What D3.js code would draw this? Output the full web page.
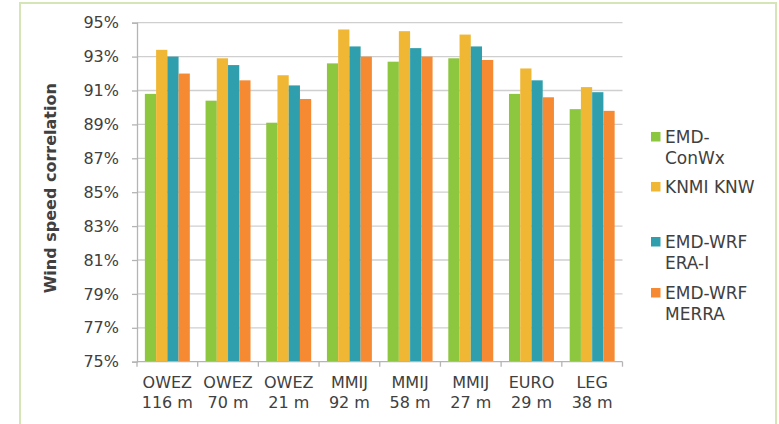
<!DOCTYPE html>
<html>
<head>
<meta charset="utf-8">
<script src="https://cdn.jsdelivr.net/npm/d3@7/dist/d3.min.js"></script>
<style>
  html, body { margin: 0; padding: 0; background: #ffffff; }
  svg { display: block; }
  text { font-family: "DejaVu Sans", Verdana, sans-serif; fill: #404040; }
</style>
</head>
<body>
<svg id="chart" width="779" height="424"></svg>
<script>
// Station / height categories (two-line labels)
const categories = [
  ["OWEZ", "116 m"], ["OWEZ", "70 m"], ["OWEZ", "21 m"], ["MMIJ", "92 m"],
  ["MMIJ", "58 m"], ["MMIJ", "27 m"], ["EURO", "29 m"], ["LEG", "38 m"]
];
const seriesNames = [
  ["EMD-", "ConWx"], ["KNMI KNW"], ["EMD-WRF", "ERA-I"], ["EMD-WRF", "MERRA"]
];
const seriesColors = ["#8dc63f", "#f0b734", "#2f9fae", "#f68a32"];

// Wind speed correlation (%) per series, one value per category
const emdConWx   = [90.8, 90.4, 89.1, 92.6, 92.7, 92.9, 90.8, 89.9];
const knmiKnw    = [93.4, 92.9, 91.9, 94.6, 94.5, 94.3, 92.3, 91.2];
const wrfEraI    = [93.0, 92.5, 91.3, 93.6, 93.5, 93.6, 91.6, 90.9];
const wrfMerra   = [92.0, 91.6, 90.5, 93.0, 93.0, 92.8, 90.6, 89.8];
const seriesValues = [emdConWx, knmiKnw, wrfEraI, wrfMerra];

const yTicks = [75, 77, 79, 81, 83, 85, 87, 89, 91, 93, 95];

const svg = d3.select("#chart");

// Outer frame
svg.append("rect")
  .attr("x", 20).attr("y", 3).attr("width", 756).attr("height", 430)
  .attr("fill", "none").attr("stroke", "#d5e5b8").attr("stroke-width", 2);

const plot = { left: 137, right: 622.5, top: 22.7, bottom: 361.7 };

const y = d3.scaleLinear().domain([75, 95]).range([plot.bottom, plot.top]);
const catKeys = categories.map((c, i) => i);
const x0 = d3.scaleBand().domain(catKeys).range([plot.left, plot.right]).padding(0);
const x1 = d3.scaleBand().domain(d3.range(seriesNames.length))
  .range([0, x0.bandwidth()]).paddingInner(0).paddingOuter(0.7);

// Horizontal gridlines
svg.append("g")
  .selectAll("line")
  .data(yTicks.slice(1))
  .join("line")
  .attr("x1", plot.left).attr("x2", plot.right)
  .attr("y1", d => y(d)).attr("y2", d => y(d))
  .attr("stroke", "#cfcfcf").attr("stroke-width", 1.3);

// Bars
const groups = svg.append("g")
  .selectAll("g")
  .data(catKeys)
  .join("g")
  .attr("transform", d => `translate(${x0(d)},0)`);

groups.selectAll("rect")
  .data(ci => seriesValues.map((vals, si) => ({ si, v: vals[ci] })))
  .join("rect")
  .attr("x", d => x1(d.si))
  .attr("width", x1.bandwidth())
  .attr("y", d => y(d.v))
  .attr("height", d => y(75) - y(d.v))
  .attr("fill", d => seriesColors[d.si]);

// Y axis
const yAxis = d3.axisLeft(y).tickValues(yTicks).tickSize(5).tickPadding(13)
  .tickFormat(d => d + "%");
const gy = svg.append("g").attr("transform", `translate(${plot.left},0)`).call(yAxis);
gy.select(".domain").attr("stroke", "#b4b4b4").attr("stroke-width", 1.3);
gy.selectAll(".tick line").attr("stroke", "#b4b4b4").attr("stroke-width", 1.3);
gy.selectAll(".tick text")
  .attr("font-family", "'DejaVu Sans', Verdana, sans-serif")
  .attr("font-size", 16).attr("fill", "#404040");

// X axis: ticks at category boundaries
const gx = svg.append("g").attr("transform", `translate(0,${plot.bottom})`);
gx.append("line")
  .attr("x1", plot.left).attr("x2", plot.right)
  .attr("stroke", "#b4b4b4").attr("stroke-width", 1.3);
gx.selectAll(".cat-tick")
  .data(d3.range(categories.length + 1))
  .join("line")
  .attr("class", "cat-tick")
  .attr("x1", i => plot.left + i * x0.step())
  .attr("x2", i => plot.left + i * x0.step())
  .attr("y1", 0).attr("y2", 5)
  .attr("stroke", "#b4b4b4").attr("stroke-width", 1.3);
const xLabels = gx.selectAll(".cat-label")
  .data(catKeys)
  .join("text")
  .attr("class", "cat-label")
  .attr("text-anchor", "middle")
  .attr("font-size", 16)
  .attr("x", d => x0(d) + x0.bandwidth() / 2);
xLabels.append("tspan").attr("x", d => x0(d) + x0.bandwidth() / 2).attr("y", 26.5)
  .text(d => categories[d][0]);
xLabels.append("tspan").attr("x", d => x0(d) + x0.bandwidth() / 2).attr("y", 46.5)
  .text(d => categories[d][1]);

// Y axis title
svg.append("text")
  .attr("transform", `translate(56,${(plot.top + plot.bottom) / 2 - 4}) rotate(-90)`)
  .attr("text-anchor", "middle")
  .attr("font-size", 16).attr("font-weight", "bold")
  .attr("fill", "#1a1a1a")
  .text("Wind speed correlation");

// Legend
const legendTops = [136, 186, 241, 292];
const legend = svg.append("g");
seriesNames.forEach((lines, i) => {
  const g = legend.append("g").attr("transform", `translate(651,${legendTops[i]})`);
  g.append("rect").attr("x", 0).attr("y", -4).attr("width", 9.5).attr("height", 9.5)
    .attr("fill", seriesColors[i]);
  const t = g.append("text").attr("font-size", 17);
  lines.forEach((ln, k) => {
    t.append("tspan").attr("x", 14).attr("y", 6.5 + k * 21).text(ln);
  });
});
</script>
</body>
</html>
